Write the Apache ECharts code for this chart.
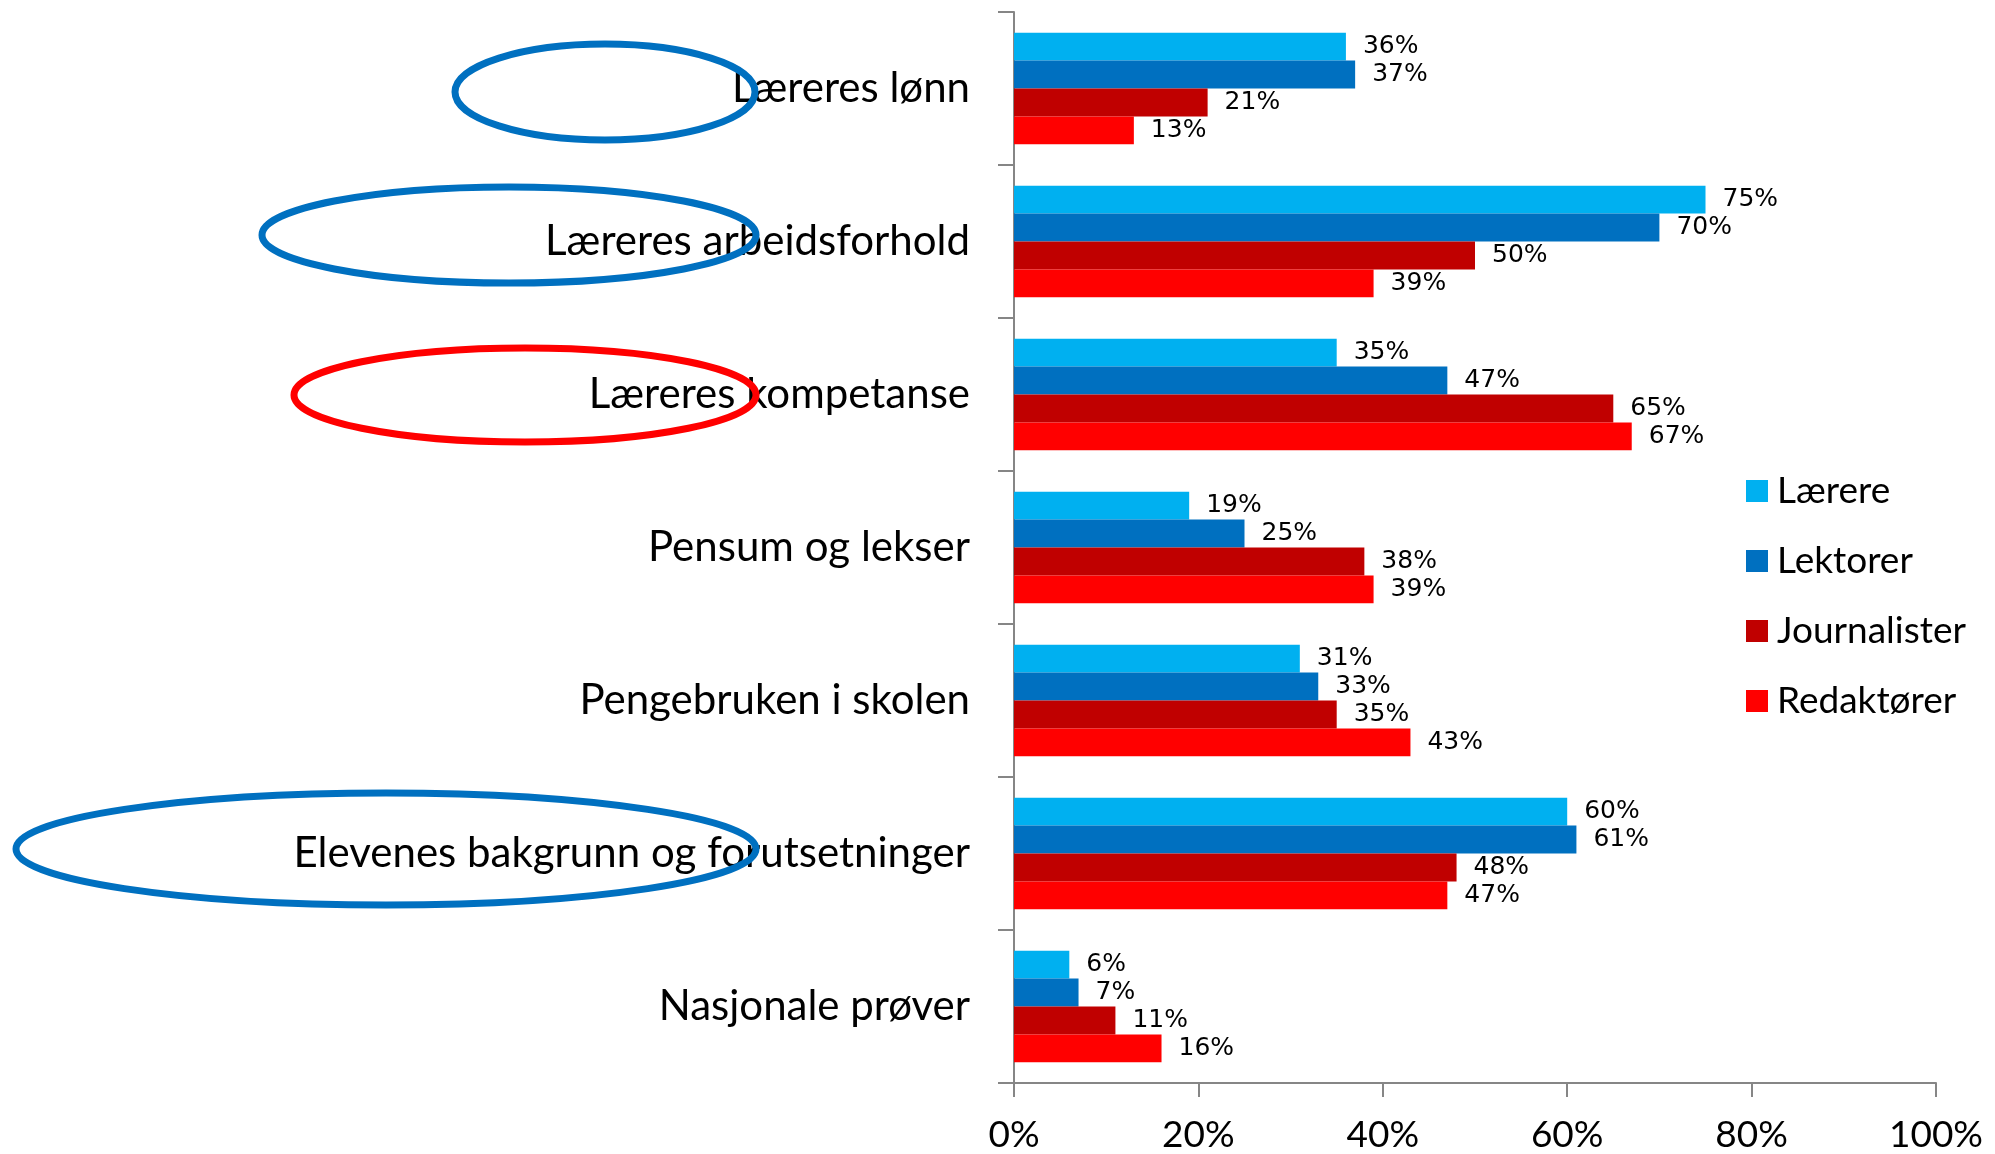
<!DOCTYPE html>
<html>
<head>
<meta charset="utf-8">
<script src="https://cdn.jsdelivr.net/npm/echarts@6/dist/echarts.min.js"></script>
<style>
  html, body { margin: 0; padding: 0; background: #fff; }
  #chart { width: 1995px; height: 1154px; }
</style>
</head>
<body>
<div id="chart"></div>
<script>
// kategorier, ovenfra og ned
const categories = [
  'Læreres lønn',
  'Læreres arbeidsforhold',
  'Læreres kompetanse',
  'Pensum og lekser',
  'Pengebruken i skolen',
  'Elevenes bakgrunn og forutsetninger',
  'Nasjonale prøver'
]
const seriesNames = ['Lærere', 'Lektorer', 'Journalister', 'Redaktører']
const laerere = [36, 75, 35, 19, 31, 60, 6]
const lektorer = [37, 70, 47, 25, 33, 61, 7]
const journalister = [21, 50, 65, 38, 35, 48, 11]
const redaktorer = [13, 39, 67, 39, 43, 47, 16]
const colors = ['#00B0F0', '#0070C0', '#C00000', '#FF0000']

const font = 'Lato, "Noto Sans", sans-serif'
const axisGray = '#868686'

let myCharts = echarts.init(document.getElementById('chart'))

const values = [laerere, lektorer, journalister, redaktorer]
const series = values.map((data, i) => ({
  name: seriesNames[i],
  type: 'bar',
  data: data,
  barGap: '0%',
  barCategoryGap: '27%',
  itemStyle: { color: colors[i] },
  label: {
    show: true,
    position: 'right',
    distance: 17,
    formatter: '{c}%',
    color: '#000',
    fontFamily: '"DejaVu Sans", sans-serif',
    fontSize: 25,
  },
}))

// ringene rundt noen av kategoriene
const ring = (cx, cy, rx, ry, color) => ({
  type: 'ellipse',
  z: 100,
  shape: { cx, cy, rx, ry },
  style: { fill: 'none', stroke: color, lineWidth: 7 },
})

myCharts.setOption({
  animation: false,
  color: colors,
  grid: {
    left: 1014,
    right: 59,
    top: 12,
    bottom: 68,
  },
  legend: {
    orient: 'vertical',
    left: 1746,
    top: 470,
    padding: 0,
    itemWidth: 22,
    itemHeight: 22,
    itemGap: 28,
    icon: 'rect',
    data: seriesNames,
    textStyle: {
      fontFamily: font,
      fontSize: 37,
      lineHeight: 42,
      color: '#000',
      padding: [0, 0, 0, 4],
    },
  },
  xAxis: {
    type: 'value',
    min: 0,
    max: 100,
    interval: 20,
    axisLine: { show: true, lineStyle: { color: axisGray, width: 2 } },
    axisTick: { show: true, length: 14, lineStyle: { color: axisGray, width: 2 } },
    splitLine: { show: false },
    axisLabel: {
      formatter: '{value}%',
      fontFamily: font,
      fontSize: 37,
      color: '#000',
      margin: 34,
    },
  },
  yAxis: {
    type: 'category',
    inverse: true,
    data: categories,
    axisLine: { show: true, lineStyle: { color: axisGray, width: 2 } },
    axisTick: { show: true, length: 16, lineStyle: { color: axisGray, width: 2 } },
    axisLabel: {
      fontFamily: font,
      fontSize: 42,
      color: '#000',
      margin: 44,
    },
  },
  series: series,
  graphic: [
    ring(605, 92, 150, 48, '#0070C0'),
    ring(509, 235, 247, 48, '#0070C0'),
    ring(525, 395, 231, 47, '#FF0000'),
    ring(386, 849, 370, 56, '#0070C0'),
  ],
})
</script>
</body>
</html>
